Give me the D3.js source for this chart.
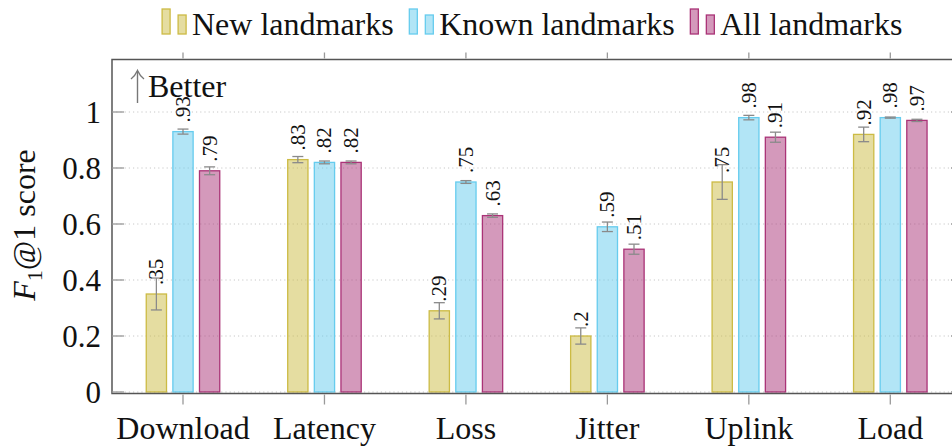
<!DOCTYPE html>
<html>
<head>
<meta charset="utf-8">
<script src="https://cdn.jsdelivr.net/npm/d3@7"></script>
<style>
  body { margin: 0; background: #fff; }
  svg text { font-family: "Liberation Serif", "Times New Roman", serif; }
</style>
</head>
<body>
<script>
// data
var categories = ["Download", "Latency", "Loss", "Jitter", "Uplink", "Load"];
var series = ["New landmarks", "Known landmarks", "All landmarks"];
var colors = ["#CCBB44", "#66CCEE", "#AA3377"];
var newVals   = [0.35, 0.83, 0.29, 0.20, 0.75, 0.92];
var knownVals = [0.93, 0.82, 0.75, 0.59, 0.98, 0.98];
var allVals   = [0.79, 0.82, 0.63, 0.51, 0.91, 0.97];
var newErr    = [0.057, 0.011, 0.029, 0.029, 0.062, 0.026];
var knownErr  = [0.009, 0.005, 0.005, 0.017, 0.008, 0.002];
var allErr    = [0.014, 0.005, 0.006, 0.018, 0.018, 0.004];
var yTicks = [0, 0.2, 0.4, 0.6, 0.8, 1];

var W = 952, H = 448;
var pLeft = 112, pRight = 961, pTop = 59.5, pBottom = 393.5;

var svg = d3.select("body").append("svg")
    .attr("width", W).attr("height", H);

function txt(sel) {
    return sel.append("text").attr("fill", "#111");
}

var y = d3.scaleLinear().domain([0, 1]).range([392, 112]);
var x = d3.scalePoint().domain(categories).range([183, 890.3]);
var xs = d3.scaleBand().domain(series).range([-37.4, 37.4]).paddingInner(0.19);

var vals = [newVals, knownVals, allVals];
var errs = [newErr, knownErr, allErr];
var rows = [];
categories.forEach(function(c, i) {
    series.forEach(function(s, j) {
        rows.push({cat: c, ser: s, j: j, v: vals[j][i], e: errs[j][i]});
    });
});

// grid
svg.append("g").selectAll("line")
    .data(yTicks).enter().append("line")
    .attr("x1", pLeft).attr("x2", pRight)
    .attr("y1", d => y(d)).attr("y2", d => y(d))
    .attr("stroke", "#c8c8c8").attr("stroke-width", 1)
    .attr("stroke-dasharray", "1.2,3");

// bars
var sw = 1.3;
svg.append("g").selectAll("rect")
    .data(rows).enter().append("rect")
    .attr("x", d => x(d.cat) + xs(d.ser) + sw / 2)
    .attr("width", xs.bandwidth() - sw)
    .attr("y", d => y(d.v))
    .attr("height", d => y(0) - y(d.v))
    .attr("fill", d => colors[d.j]).attr("fill-opacity", 0.5)
    .attr("stroke", d => colors[d.j]).attr("stroke-width", sw);

// error bars
var eg = svg.append("g").attr("stroke", "#8a8a8a").attr("stroke-width", 1.3);
rows.forEach(function(d) {
    var cx = x(d.cat) + xs(d.ser) + xs.bandwidth() / 2;
    eg.append("line").attr("x1", cx).attr("x2", cx)
        .attr("y1", y(d.v + d.e)).attr("y2", y(d.v - d.e));
    [d.v + d.e, d.v - d.e].forEach(function(t) {
        eg.append("line").attr("x1", cx - 5.5).attr("x2", cx + 5.5)
            .attr("y1", y(t)).attr("y2", y(t));
    });
});

// value labels
function fmt(v) {
    return d3.format(".2f")(v).replace(/^0/, "").replace(/0+$/, "");
}
var vg = svg.append("g");
rows.forEach(function(d) {
    txt(vg)
        .attr("transform", "translate(" + (x(d.cat) + xs(d.ser) + xs.bandwidth() / 2) + "," + (y(d.v) - 9) + ") rotate(-90)")
        .attr("dominant-baseline", "central")
        .attr("font-size", 21)
        .text(fmt(d.v));
});

// frame
svg.append("rect")
    .attr("x", pLeft).attr("y", pTop)
    .attr("width", pRight - pLeft).attr("height", pBottom - pTop)
    .attr("fill", "none").attr("stroke", "#555").attr("stroke-width", 1.5);

// ticks
var tg = svg.append("g").attr("stroke", "#999").attr("stroke-width", 1.3);
categories.forEach(function(c) {
    tg.append("line").attr("x1", x(c)).attr("x2", x(c)).attr("y1", pBottom + 1).attr("y2", pBottom + 11);
    tg.append("line").attr("x1", x(c)).attr("x2", x(c)).attr("y1", pTop - 1).attr("y2", pTop - 7);
});
yTicks.forEach(function(t) {
    tg.append("line").attr("x1", pLeft).attr("x2", pLeft + 12).attr("y1", y(t)).attr("y2", y(t));
    tg.append("line").attr("x1", pRight - 10).attr("x2", pRight).attr("y1", y(t)).attr("y2", y(t));
});

// tick labels
var yg = svg.append("g");
yTicks.forEach(function(t) {
    txt(yg).attr("x", 101).attr("y", y(t))
        .attr("text-anchor", "end").attr("dominant-baseline", "central")
        .attr("font-size", 31)
        .text(t);
});

var xg = svg.append("g");
categories.forEach(function(c) {
    txt(xg).attr("x", x(c)).attr("y", 439)
        .attr("text-anchor", "middle")
        .attr("font-size", 32)
        .text(c);
});

// y label
var yl = txt(svg)
    .attr("transform", "translate(34.5,225) rotate(-90)")
    .attr("text-anchor", "middle")
    .attr("font-size", 32);
yl.append("tspan").attr("font-style", "italic").text("F");
yl.append("tspan").attr("dy", 7).attr("font-size", 22).text("1");
yl.append("tspan").attr("dy", -7).text("@1 score");

// better annotation
svg.append("line")
    .attr("x1", 137.5).attr("x2", 137.5).attr("y1", 103).attr("y2", 71)
    .attr("stroke", "#777").attr("stroke-width", 1.4);
svg.append("path")
    .attr("d", "M131,79 Q135,76 137.5,70.5 Q140,76 144,79")
    .attr("fill", "none").attr("stroke", "#777").attr("stroke-width", 1.4);
txt(svg).attr("x", 148).attr("y", 97).attr("font-size", 32).text("Better");

// legend
var lx = 161.5;
series.forEach(function(s, j) {
    var g = svg.append("g").attr("transform", "translate(" + lx + ",0)");
    g.append("rect").attr("x", 0.6).attr("y", 9).attr("width", 8).attr("height", 25)
        .attr("fill", colors[j]).attr("fill-opacity", 0.5)
        .attr("stroke", colors[j]).attr("stroke-width", sw);
    g.append("rect").attr("x", 16.6).attr("y", 15).attr("width", 8).attr("height", 19)
        .attr("fill", colors[j]).attr("fill-opacity", 0.5)
        .attr("stroke", colors[j]).attr("stroke-width", sw);
    var t = txt(g).attr("x", 30.5).attr("y", 35).attr("font-size", 32).text(s);
    lx += 30.5 + t.node().getComputedTextLength() + 15;
});
</script>
</body>
</html>
